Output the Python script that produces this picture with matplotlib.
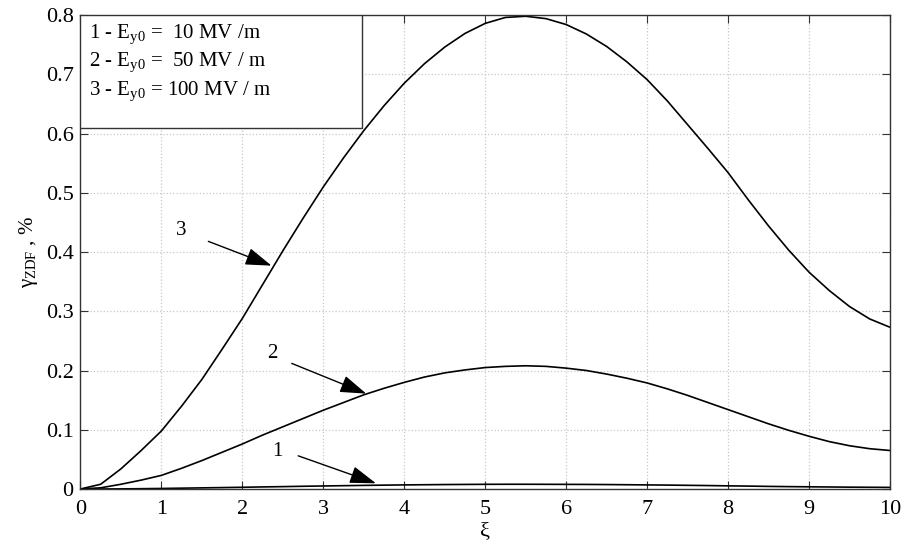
import matplotlib
matplotlib.use("Agg")
import matplotlib.pyplot as plt
from matplotlib.patches import Rectangle

plt.rcParams['font.family'] = ['Liberation Serif', 'DejaVu Serif']
plt.rcParams['mathtext.fontset'] = 'custom'
plt.rcParams['mathtext.rm'] = 'Liberation Serif'
plt.rcParams['mathtext.it'] = 'Liberation Serif:italic'

# values
xi = [0, 0.25, 0.5, 0.75, 1, 1.25, 1.5, 1.75, 2, 2.25, 2.5, 2.75, 3, 3.25,
      3.5, 3.75, 4, 4.25, 4.5, 4.75, 5, 5.25, 5.5, 5.75, 6, 6.25, 6.5, 6.75,
      7, 7.25, 7.5, 7.75, 8, 8.25, 8.5, 8.75, 9, 9.25, 9.5, 9.75, 10]
gamma_100 = [0, 0.008, 0.034, 0.065, 0.098, 0.14, 0.185, 0.236, 0.288, 0.345,
             0.402, 0.457, 0.51, 0.559, 0.605, 0.647, 0.685, 0.718, 0.746,
             0.769, 0.786, 0.796, 0.798, 0.794, 0.784, 0.768, 0.747, 0.721,
             0.691, 0.655, 0.615, 0.575, 0.534, 0.488, 0.444, 0.403, 0.366,
             0.335, 0.308, 0.287, 0.273]
gamma_50 = [0, 0.002, 0.008, 0.015, 0.023, 0.035, 0.048, 0.062, 0.076, 0.091,
            0.105, 0.119, 0.133, 0.146, 0.159, 0.17, 0.18, 0.189, 0.196, 0.201,
            0.205, 0.207, 0.208, 0.207, 0.204, 0.2, 0.194, 0.187, 0.179, 0.169,
            0.158, 0.146, 0.134, 0.122, 0.11, 0.099, 0.089, 0.08, 0.073, 0.068,
            0.065]
gamma_10 = [0, 0, 0.0002, 0.0005, 0.0009, 0.0014, 0.0019, 0.0024, 0.0029,
            0.0035, 0.004, 0.0046, 0.0051, 0.0056, 0.0061, 0.0065, 0.0069,
            0.0072, 0.0075, 0.0077, 0.0079, 0.008, 0.008, 0.0079, 0.0078,
            0.0077, 0.0075, 0.0072, 0.0069, 0.0066, 0.0062, 0.0058, 0.0053,
            0.0049, 0.0044, 0.004, 0.0037, 0.0034, 0.0031, 0.0029, 0.0027]

curve_labels = ['1', '2', '3']
label_pos = [(2.43, 0.063), (2.37, 0.229), (1.25, 0.436)]
arrow_tail = [(2.69, 0.056), (2.61, 0.212), (1.58, 0.418)]
arrow_tip = [(3.65, 0.0096), (3.53, 0.161), (2.36, 0.377)]

legend_lines = [r'1 - E$_{\mathrm{y0}}$ =  10 MV /m',
                r'2 - E$_{\mathrm{y0}}$ =  50 MV / m',
                r'3 - E$_{\mathrm{y0}}$ = 100 MV / m']

fig = plt.figure(figsize=(9.02, 5.46), dpi=100)
ax = fig.add_axes([0.0892, 0.1044, 0.8975, 0.868])

for g in (gamma_10, gamma_50, gamma_100):
    ax.plot(xi, g, color='black', lw=1.2)

for lab, lp, tail, tip in zip(curve_labels, label_pos, arrow_tail, arrow_tip):
    ax.text(lp[0], lp[1], lab, fontsize=15, ha='center', va='center')
    ax.annotate('', xy=tip, xytext=tail,
                arrowprops=dict(arrowstyle='-|>,head_length=0.9,head_width=0.3',
                                mutation_scale=18, color='black', lw=1.0,
                                shrinkA=0, shrinkB=0))

ax.set_xlim(0, 10)
ax.set_ylim(0, 0.8)
ax.set_xticks(range(0, 11))
ax.set_yticks([0, 0.1, 0.2, 0.3, 0.4, 0.5, 0.6, 0.7, 0.8])
ax.set_yticklabels(['0', '0.1', '0.2', '0.3', '0.4', '0.5', '0.6', '0.7', '0.8'])
ax.tick_params(direction='in', top=True, right=True, labelsize=16, length=6,
               color='#333333')
ax.tick_params(axis='x', pad=8)
ax.tick_params(axis='y', pad=5)
ax.grid(True, linestyle=':', color='#c8c8c8', lw=0.9)
for s in ax.spines.values():
    s.set_color('#333333')
    s.set_linewidth(1.0)

ax.set_xlabel('ξ', fontsize=16, labelpad=2)
ax.set_ylabel(r'γ$_{\mathrm{ZDF}}$ , %', fontsize=15, labelpad=4)

# legend box in the upper left corner
ax.add_patch(Rectangle((0, 0.762), 0.348, 0.238, transform=ax.transAxes,
                       facecolor='white', edgecolor='#333333', lw=1.0, zorder=5))
for i, line in enumerate(legend_lines):
    ax.text(0.01, 0.96 - i * 0.06, line, transform=ax.transAxes, fontsize=15,
            ha='left', va='center', zorder=6)

fig.savefig('out.png', dpi=100)
